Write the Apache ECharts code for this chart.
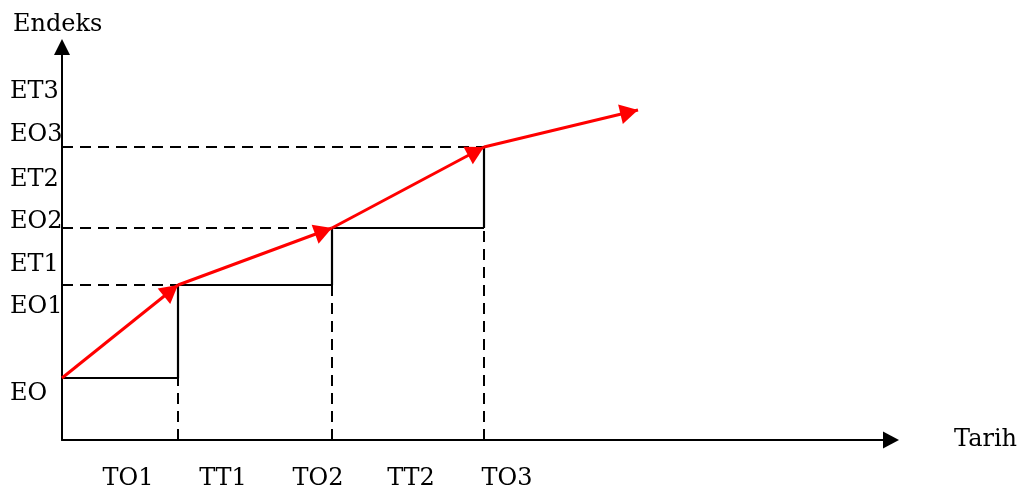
<!DOCTYPE html>
<html><head><meta charset="utf-8">
<script src="https://cdn.jsdelivr.net/npm/echarts@6/dist/echarts.min.js"></script>
<style>html,body{margin:0;padding:0;background:#fff}#c{width:1025px;height:496px}</style>
</head><body><div id="c"></div>
<script>
// Step points (x = time position, y = index level)
const pointX = [0, 116, 270, 422, 576];
const pointY = [62, 155, 212, 293, 330];
// Y-axis tick labels and their positions
const yLabels = ['ET3', 'EO3', 'ET2', 'EO2', 'ET1', 'EO1', 'EO'];
const yLabelPos = [348, 305, 260, 218, 175, 133, 46];
// X-axis tick labels and their positions
const xLabels = ['TO1', 'TT1', 'TO2', 'TT2', 'TO3'];
const xLabelPos = [66, 161, 256, 349, 445];
// alpha annotations
const alphaX = [64, 193, 325];
const alphaY = [87, 173, 217];

const FONT = 'DejaVu Serif';
const FS = 24;
const HEAD_W = 20, HEAD_L = 18;
const yMap = {}; yLabelPos.forEach((v, i) => yMap[v] = yLabels[i]);
const xMap = {}; xLabelPos.forEach((v, i) => xMap[v] = xLabels[i]);

const red = [], solid = [], dashed = [];
for (let i = 0; i < pointX.length - 1; i++) {
  red.push({coords: [[pointX[i], pointY[i]], [pointX[i + 1], pointY[i + 1]]]});
}
for (let i = 0; i < 3; i++) {
  solid.push({coords: [[pointX[i], pointY[i]], [pointX[i + 1], pointY[i]]]});
  solid.push({coords: [[pointX[i + 1], pointY[i]], [pointX[i + 1], pointY[i + 1]]]});
  dashed.push({coords: [[0, pointY[i + 1]], [pointX[i + 1], pointY[i + 1]]]});
  dashed.push({coords: [[pointX[i + 1], 0], [pointX[i + 1], pointY[i]]]});
}

const chart = echarts.init(document.getElementById('c'), null, {renderer: 'canvas'});
chart.setOption({
  animation: false,
  title: {text: 'Endeks', left: 8, top: 8, textStyle: {fontFamily: FONT, fontSize: FS, fontWeight: 'normal', color: '#000'}},
  grid: {left: 62, top: 47, right: 134, bottom: 56, outerBoundsMode: 'none', containLabel: false},
  xAxis: {
    type: 'value', min: 0, max: 829,
    name: 'Tarih', nameLocation: 'end', nameGap: 63,
    nameTextStyle: {fontFamily: FONT, fontSize: FS, color: '#000', verticalAlign: 'middle'},
    axisLine: {show: true, onZero: false, symbol: ['none', 'triangle'], symbolSize: [17, 16], lineStyle: {color: '#000', width: 2}},
    axisTick: {show: false},
    splitLine: {show: false},
    axisLabel: {customValues: xLabelPos, formatter: v => xMap[v] || '', margin: 27, fontFamily: FONT, fontSize: FS, color: '#000'}
  },
  yAxis: {
    type: 'value', min: 0, max: 393,
    axisLine: {show: true, onZero: false, symbol: ['none', 'triangle'], symbolSize: [16, 16], lineStyle: {color: '#000', width: 2}},
    axisTick: {show: false},
    splitLine: {show: false},
    axisLabel: {customValues: yLabelPos, formatter: v => yMap[v] || '', margin: 52, align: 'left', fontFamily: FONT, fontSize: FS, color: '#000'}
  },
  series: [
    {type: 'lines', coordinateSystem: 'cartesian2d', z: 2, symbol: 'none', silent: true,
     lineStyle: {color: '#000', width: 2, type: [11, 7], opacity: 1}, data: dashed},
    {type: 'lines', coordinateSystem: 'cartesian2d', z: 3, symbol: 'none', silent: true,
     lineStyle: {color: '#000', width: 2.2, opacity: 1}, data: solid},
    {type: 'lines', coordinateSystem: 'cartesian2d', z: 4, symbol: 'none', silent: true,
     lineStyle: {color: '#ff0000', width: 3, opacity: 1}, data: red},
    {type: 'scatter', symbol: 'none', z: 5, silent: true,
     label: {show: true, position: 'inside', formatter: 'α', fontFamily: 'DejaVu Sans', fontSize: 22, color: '#000'},
     data: alphaX.map((x, i) => [x, alphaY[i]])}
  ]
});

// Arrowheads: triangles at each segment end, rotated along the segment, tip on the point
const heads = [];
for (let i = 1; i < pointX.length; i++) {
  const a = chart.convertToPixel({gridIndex: 0}, [pointX[i - 1], pointY[i - 1]]);
  const b = chart.convertToPixel({gridIndex: 0}, [pointX[i], pointY[i]]);
  const dx = b[0] - a[0], dy = b[1] - a[1];
  const len = Math.hypot(dx, dy);
  const ux = dx / len, uy = dy / len;
  const phi = Math.atan2(-dy, dx) * 180 / Math.PI;
  heads.push({
    value: [pointX[i], pointY[i]],
    symbolRotate: phi - 90,
    symbolOffset: [-ux * HEAD_L / 2, -uy * HEAD_L / 2]
  });
}
chart.setOption({series: [{}, {}, {}, {}, {
  type: 'scatter', z: 6, silent: true, symbol: 'triangle', symbolSize: [HEAD_W, HEAD_L],
  itemStyle: {color: '#ff0000', opacity: 1}, data: heads
}]});
</script></body></html>
